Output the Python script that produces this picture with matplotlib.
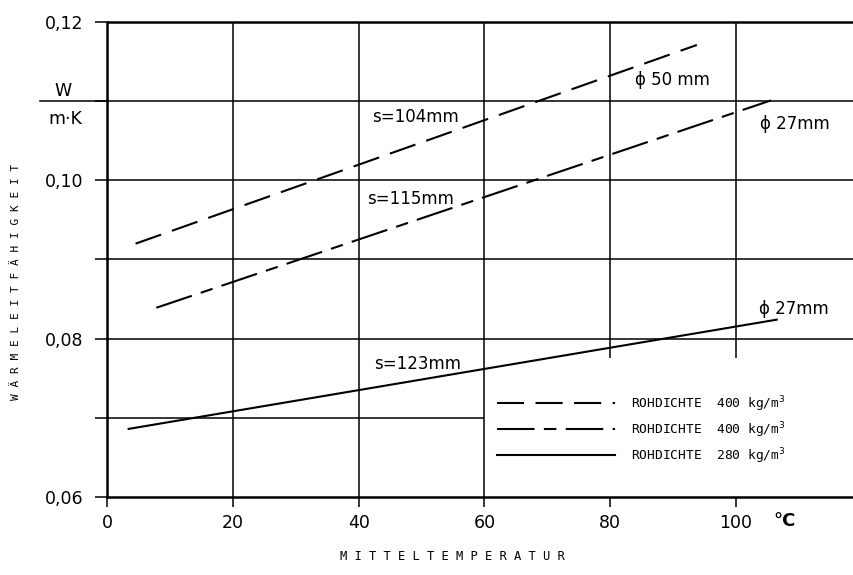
import matplotlib.pyplot as plt

# Wärmeleitfähigkeit über Mitteltemperatur (Anfangs- und Endpunkt jeder Geraden)
temp_d50 = [4.5, 93.8]
lam_d50 = [0.0920, 0.1171]
temp_d27_oben = [7.8, 105.6]
lam_d27_oben = [0.0839, 0.1101]
temp_d27_unten = [3.4, 106.5]
lam_d27_unten = [0.0686, 0.0824]

legend_labels = [
    "ROHDICHTE  400 kg/m$^3$",
    "ROHDICHTE  400 kg/m$^3$",
    "ROHDICHTE  280 kg/m$^3$",
]

x_ticks = [0, 20, 40, 60, 80, 100]
y_ticks = [0.06, 0.07, 0.08, 0.09, 0.10, 0.11, 0.12]
y_ticklabels = ["0,06", "", "0,08", "", "0,10", "", "0,12"]

# Beschriftungen an den Kurven: (Text, Temperatur, Lambda)
kurven_text = [
    ("s=104mm", 49.1, 0.1080),
    ("s=115mm", 48.3, 0.0976),
    ("s=123mm", 49.3, 0.0768),
    ("\u03d5 50 mm", 89.9, 0.1127),
    ("\u03d5 27mm", 109.4, 0.1071),
    ("\u03d5 27mm", 109.3, 0.0837),
]

x_max = 118.8

fig = plt.figure(figsize=(8.54, 5.75), dpi=100)
ax = fig.add_axes([0.1256, 0.1357, 0.8744, 0.826])
ax.set_xlim(0, x_max)
ax.set_ylim(0.06, 0.12)

ax.spines["top"].set_visible(False)
ax.spines["right"].set_visible(False)
ax.spines["left"].set_linewidth(1.8)
ax.spines["bottom"].set_linewidth(1.8)

# Raster: unten rechts bleibt frei für die Legende
grid_lw = 1.1
for y in y_ticks[1:-1]:
    x_end = 60 if y == 0.07 else x_max
    ax.hlines(y, 0, x_end, color="black", lw=grid_lw, zorder=1)
ax.hlines(0.12, 0, x_max, color="black", lw=1.8, zorder=1, clip_on=False)
for x in x_ticks[1:]:
    y_start = 0.0776 if x >= 80 else 0.06
    ax.vlines(x, y_start, 0.12, color="black", lw=grid_lw, zorder=1)

# Bruchstrich der Einheit
ax.plot([-0.09, 0], [0.11, 0.11], color="black", lw=grid_lw,
        transform=ax.get_yaxis_transform(), clip_on=False)
fig.text(63 / 854, 1 - 91 / 575, "W", fontsize=12.5, ha="center", va="center")
fig.text(65 / 854, 1 - 119 / 575, "m\u00b7K", fontsize=12.5, ha="center", va="center")

ax.set_xticks(x_ticks)
ax.set_xticklabels([str(v) for v in x_ticks])
ax.set_yticks(y_ticks)
ax.set_yticklabels(y_ticklabels)
ax.tick_params(axis="y", direction="out", length=9, width=1.1, pad=8, labelsize=12.5)
ax.tick_params(axis="x", direction="out", length=7, width=1.1, pad=5, labelsize=12.5)

fig.text(785 / 854, 1 - 521 / 575, "°C", fontsize=13, fontweight="bold",
         ha="center", va="center")

mono = "DejaVu Sans Mono"
fig.text(452 / 854, 1 - 557 / 575, " ".join("MITTELTEMPERATUR"),
         fontsize=8.7, family=mono, ha="center", va="center")
fig.text(16 / 854, 1 - 282 / 575, " ".join("WÄRMELEITFÄHIGKEIT"),
         fontsize=8, family=mono, rotation=90, ha="center", va="center")

lw = 1.5
l1, = ax.plot(temp_d50, lam_d50, color="black", lw=lw,
              linestyle=(0, (13, 5.5)))
l2, = ax.plot(temp_d27_oben, lam_d27_oben, color="black", lw=lw,
              linestyle=(0, (18, 4.5, 6, 4.5)))
l3, = ax.plot(temp_d27_unten, lam_d27_unten, color="black", lw=lw)

for txt, x, y in kurven_text:
    ax.text(x, y, txt, fontsize=12, ha="center", va="center")

# Legende mit gestrichelten Mustern wie im Diagramm
fig.legend([l1, l2, l3], legend_labels, loc="upper left",
           bbox_to_anchor=(497 / 854, 1 - 394 / 575), frameon=False,
           borderpad=0, borderaxespad=0, handlelength=9.1, handletextpad=1.3,
           labelspacing=0.5, prop={"family": mono, "size": 9.3})

fig.savefig("out.png", dpi=100)
